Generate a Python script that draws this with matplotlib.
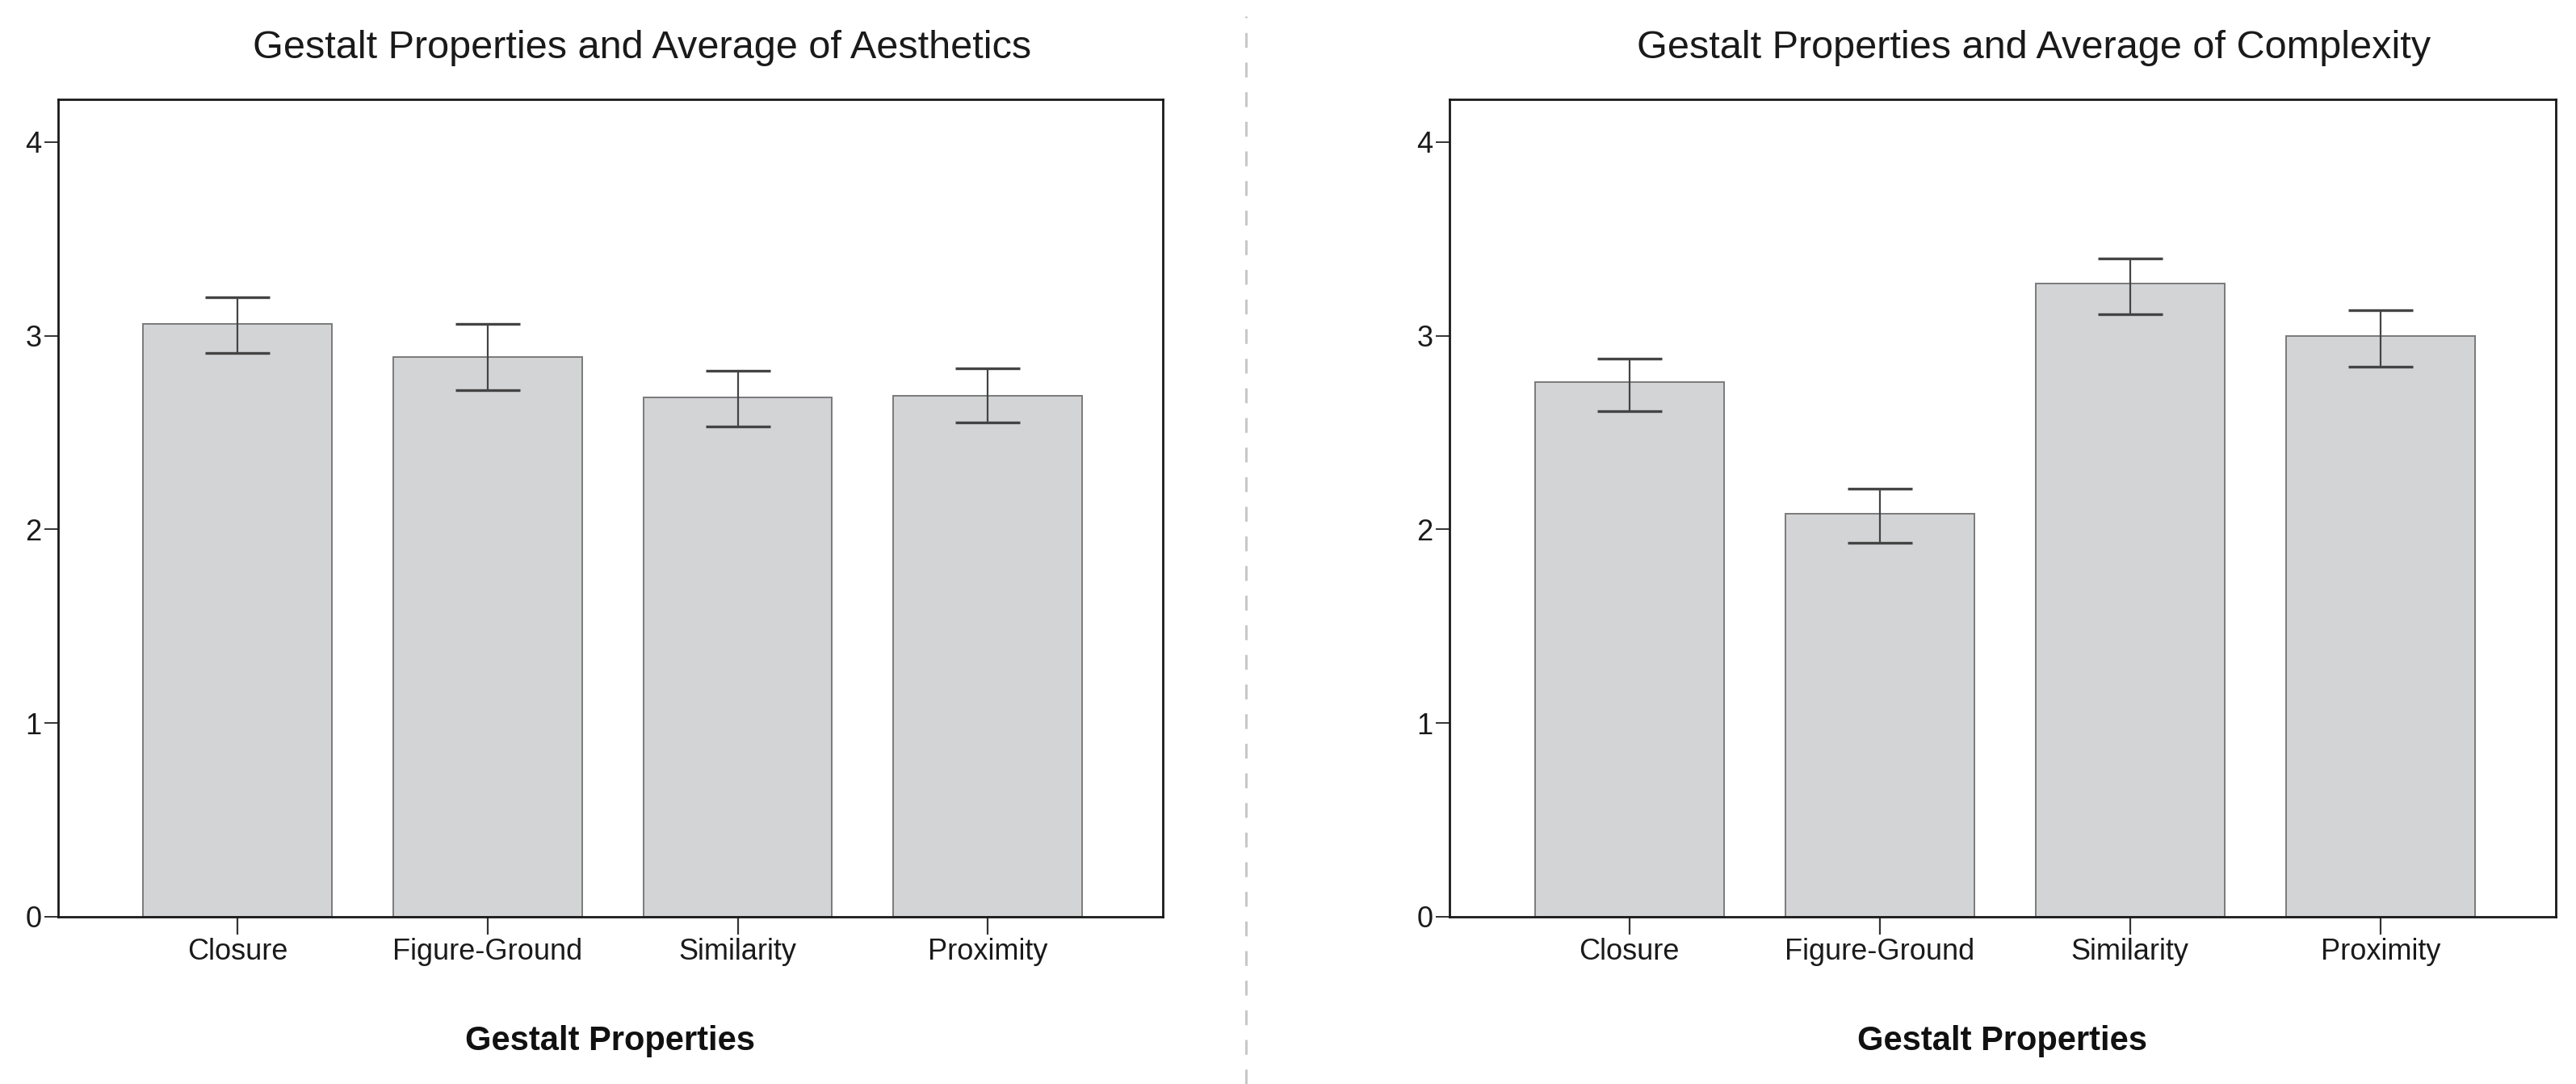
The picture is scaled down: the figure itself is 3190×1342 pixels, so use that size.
import matplotlib
matplotlib.use("Agg")
import matplotlib.pyplot as plt
from matplotlib.lines import Line2D

plt.rcParams['font.family'] = ['Liberation Sans', 'DejaVu Sans']

categories = ["Closure", "Figure-Ground", "Similarity", "Proximity"]
yticks = [0, 1, 2, 3, 4]

aesthetics_mean = [3.06, 2.89, 2.68, 2.69]
aesthetics_hi = [3.20, 3.06, 2.82, 2.83]
aesthetics_lo = [2.91, 2.72, 2.53, 2.55]

complexity_mean = [2.76, 2.08, 3.27, 3.00]
complexity_hi = [2.88, 2.21, 3.40, 3.13]
complexity_lo = [2.61, 1.93, 3.11, 2.84]

titles = ["Gestalt Properties and Average of Aesthetics",
          "Gestalt Properties and Average of Complexity"]
xlabel = "Gestalt Properties"

W, H = 3190, 1342
fig = plt.figure(figsize=(W / 100, H / 100), dpi=100)

panels = [
    (aesthetics_mean, aesthetics_hi, aesthetics_lo, 72, 1368, 795),
    (complexity_mean, complexity_hi, complexity_lo, 1795, 1370, 2519),
]

for i, (mean, hi, lo, left_px, width_px, title_x) in enumerate(panels):
    ax = fig.add_axes([left_px / W, (H - 1135) / H, width_px / W, 1012 / H])
    x = list(range(len(categories)))
    err = [[m - l for m, l in zip(mean, lo)], [h - m for m, h in zip(mean, hi)]]
    ax.bar(x, mean, width=0.755, color="#d3d4d6", edgecolor="#7a7a7a",
           linewidth=1.4, zorder=2)
    ax.errorbar(x, mean, yerr=err, fmt="none", ecolor="#444444",
                elinewidth=1.6, capsize=29, capthick=2.4, zorder=3)
    ax.set_xlim(-0.718, 3.70)
    ax.set_ylim(0, 4.22)
    ax.set_xticks(x)
    ax.set_xticklabels(categories, fontsize=26, color="#1a1a1a")
    ax.set_yticks(yticks)
    ax.set_yticklabels([str(t) for t in yticks], fontsize=26, color="#1a1a1a")
    ax.tick_params(axis="x", length=16, width=1.6, pad=3, color="#333333")
    ax.tick_params(axis="y", length=12, width=1.4, pad=3, color="#333333")
    for s in ax.spines.values():
        s.set_linewidth(2.0)
        s.set_color("#1a1a1a")
    ax.set_xlabel(xlabel, fontsize=30, fontweight="bold", color="#111111")
    ax.xaxis.set_label_coords(0.5, -0.152)
    ax.xaxis.label.set_va("center")
    fig.text(title_x / W, 1 - 59 / H, titles[i], fontsize=35,
             ha="center", va="center", color="#1a1a1a")

# dashed divider between the two panels
fig.add_artist(Line2D([1543 / W, 1543 / W], [0, 1 - 20 / H],
                      transform=fig.transFigure, color="#c8c8c8",
                      linewidth=2.2, linestyle=(0, (6, 6))))

fig.savefig("out.png", dpi=100, facecolor="white")
